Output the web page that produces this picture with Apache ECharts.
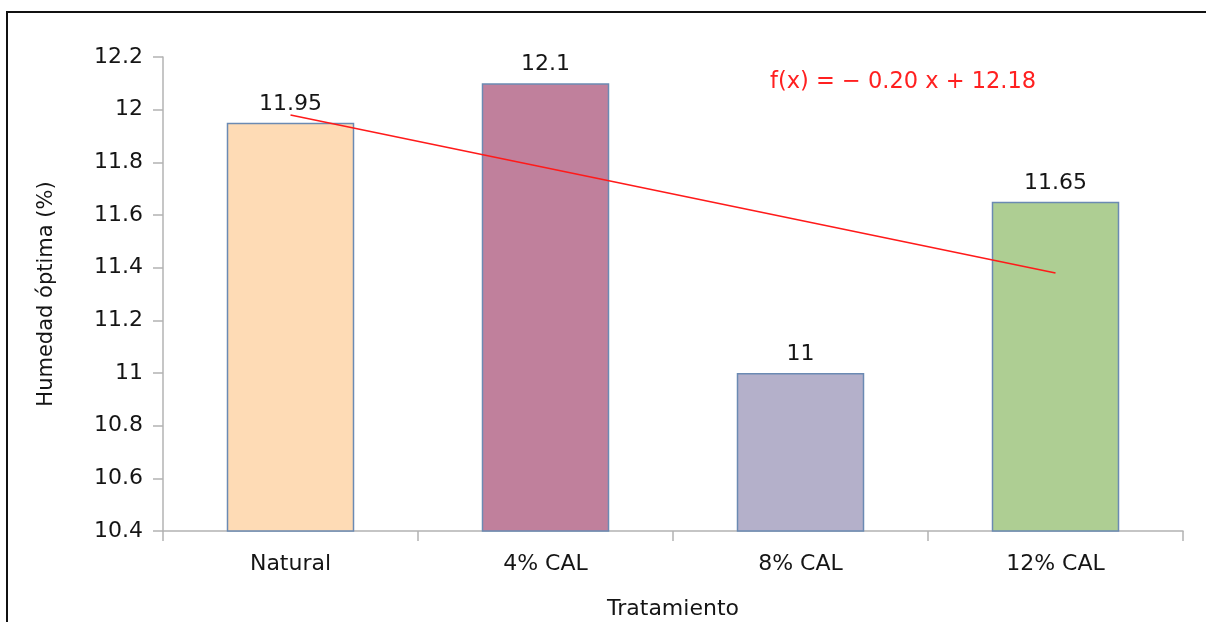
<!DOCTYPE html>
<html>
<head>
<meta charset="utf-8">
<script src="https://cdn.jsdelivr.net/npm/echarts@6/dist/echarts.min.js"></script>
<style>
  html, body { margin: 0; padding: 0; background: #fff; }
  #chart { width: 1206px; height: 622px; }
</style>
</head>
<body>
<div id="chart"></div>
<script>
// Optimum moisture content by treatment
const categories = ['Natural', '4% CAL', '8% CAL', '12% CAL'];
const humedad = [11.95, 12.1, 11, 11.65];
const barColors = ['#fedbb5', '#c0809c', '#b4b0ca', '#aece93'];

// Linear trend stated on the chart: f(x) = -0.20 x + 12.18 (x = 1..4)
const trendSlope = -0.20;
const trendIntercept = 12.18;
const trendLabel = 'f(x) = \u2212 0.20 x + 12.18';

const yTicks = { min: 10.4, max: 12.2, interval: 0.2 };

const FONT = 'DejaVu Sans';
const TEXT = '#151515';
const AXIS = '#b3b3b3';

const trendData = categories.map((c, i) =>
  (i === 0 || i === categories.length - 1) ? +(trendSlope * (i + 1) + trendIntercept).toFixed(2) : null
);

const chart = echarts.init(document.getElementById('chart'), null, { renderer: 'canvas' });
chart.setOption({
  animation: false,
  backgroundColor: '#ffffff',
  grid: { left: 163, right: 23, top: 57, bottom: 91, containLabel: false, outerBoundsMode: 'none' },
  xAxis: {
    type: 'category',
    data: categories,
    name: 'Tratamiento',
    nameLocation: 'middle',
    nameGap: 67,
    nameTextStyle: { fontFamily: FONT, fontSize: 22, color: TEXT },
    axisLine: { lineStyle: { color: AXIS, width: 1.5 } },
    axisTick: { show: true, length: 10, lineStyle: { color: AXIS, width: 1.5 } },
    axisLabel: { fontFamily: FONT, fontSize: 22, color: TEXT, margin: 22 },
    splitLine: { show: false }
  },
  yAxis: {
    type: 'value',
    min: yTicks.min,
    max: yTicks.max,
    interval: yTicks.interval,
    name: 'Humedad óptima (%)',
    nameLocation: 'middle',
    nameGap: 106,
    nameRotate: 90,
    nameTextStyle: { fontFamily: FONT, fontSize: 21, color: TEXT },
    axisLine: { show: true, lineStyle: { color: AXIS, width: 1.5 } },
    axisTick: { show: true, length: 10, lineStyle: { color: AXIS, width: 1.5 } },
    axisLabel: {
      fontFamily: FONT, fontSize: 22, color: TEXT, margin: 20,
      formatter: v => String(+v.toFixed(1))
    },
    splitLine: { show: false }
  },
  series: [
    {
      type: 'bar',
      barWidth: '50%',
      data: humedad.map((v, i) => ({
        value: v,
        itemStyle: { color: barColors[i], borderColor: '#6b8ab3', borderWidth: 1.5 }
      })),
      label: {
        show: true,
        position: 'top',
        distance: 8,
        fontFamily: FONT,
        fontSize: 22,
        color: TEXT,
        formatter: p => String(p.value)
      },
      z: 2
    },
    {
      type: 'line',
      data: trendData,
      connectNulls: true,
      symbol: 'none',
      lineStyle: { color: '#ff1a1a', width: 1.6 },
      z: 3
    }
  ],
  graphic: [
    {
      type: 'rect',
      shape: { x: 7, y: 12, width: 1300, height: 700 },
      style: { fill: 'none', stroke: '#111', lineWidth: 2 },
      silent: true
    },
    {
      type: 'text',
      left: 770,
      top: 71,
      style: {
        text: trendLabel,
        fontFamily: FONT,
        fontSize: 22.5,
        fill: '#ff2020'
      }
    }
  ]
});
</script>
</body>
</html>
